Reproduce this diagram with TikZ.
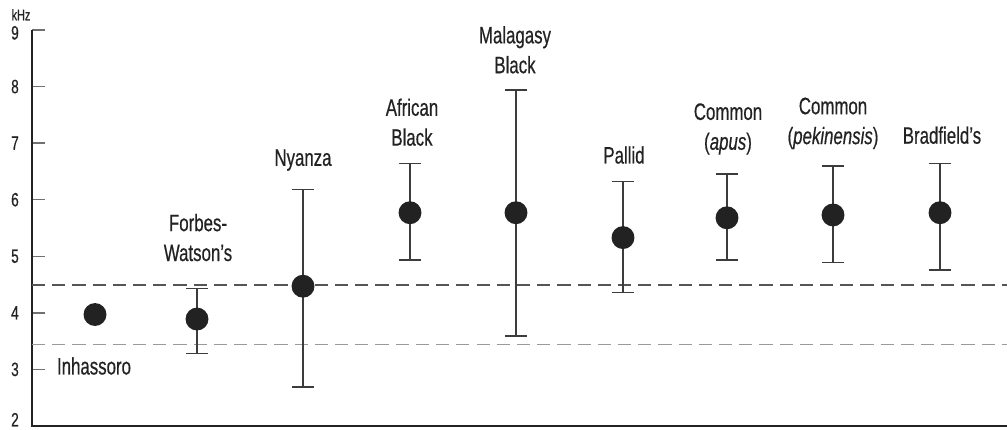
\documentclass[tikz,border=0pt]{standalone}
\usepackage{fontspec}
\setmainfont{Liberation Sans}[FakeStretch=0.71, FakeBold=0.5]
\usepackage{tikz}
\definecolor{inkdark}{HTML}{222222}
\definecolor{bargrey}{HTML}{3C3C3C}
\definecolor{tickgrey}{HTML}{707070}
\definecolor{dashdark}{HTML}{555555}
\definecolor{dashlight}{HTML}{9A9A9A}
\tikzset{
  dot/.style={circle, fill=inkdark, minimum size=23*0.567pt, inner sep=0pt},
  errbar/.style={draw=bargrey, line width=0.85pt},
  axisline/.style={draw=inkdark, line width=1.1pt},
  tickline/.style={draw=tickgrey, line width=0.85pt},
  limit/.style={line width=0.8pt, dash pattern=on 7.5pt off 4pt},
  species/.style={text=inkdark, align=center, font=\fontsize{13.5}{17}\selectfont},
  ticklabel/.style={text=inkdark, anchor=east, font=\fontsize{11}{12}\selectfont}
}
\def\errbar(#1:#2:#3){\draw[errbar] (#1,#2) -- (#1,#3); \draw[errbar] (#1-11,#2) -- (#1+11,#2); \draw[errbar] (#1-11,#3) -- (#1+11,#3);}

\begin{document}
\begin{tikzpicture}[x=0.02cm, y=1.1314cm]
		%%%%% START %%%%%
		\useasboundingbox (0,1.929) rectangle (1007,9.531);
		
		% axes
		\draw[tickline] (32,9) -- (45,9);
		\draw[tickline] (32,8) -- (45,8);
		\draw[tickline] (32,7) -- (45,7);
		\draw[tickline] (32,6) -- (45,6);
		\draw[tickline] (32,5) -- (45,5);
		\draw[tickline] (32,4) -- (45,4);
		\draw[tickline] (32,3) -- (45,3);
		\draw[axisline] (32,9) -- (32,2) -- (1007,2);
		
		\node[ticklabel] (t9) at (25,8.95) {9};
		\node[ticklabel] (t8) at (25,8) {8};
		\node[ticklabel] (t7) at (25,7) {7};
		\node[ticklabel] (t6) at (25,6) {6};
		\node[ticklabel] (t5) at (25,5) {5};
		\node[ticklabel] (t4) at (25,4) {4};
		\node[ticklabel] (t3) at (25,3) {3};
		\node[ticklabel] (t2) at (25,2.11) {2};
		\node[text=inkdark, font=\fontsize{8.7}{10}\selectfont] (unit) at (21,9.27) {kHz};
		
		% limits
		\draw[limit, draw=dashdark] (32,4.49) -- (1007,4.49);
		\draw[limit, draw=dashlight] (32,3.44) -- (1007,3.44);
		
		% ranges
		\errbar(197:3.28:4.43)
		\errbar(303:2.69:6.18)
		\errbar(410:4.93:6.64)
		\errbar(516:3.59:7.94)
		\errbar(623:4.36:6.32)
		\errbar(727:4.93:6.45)
		\errbar(833:4.89:6.60)
		\errbar(940:4.76:6.64)
		
		% means
		\node[dot] (inhassoro) at (95,3.97) {};
		\node[dot] (forbes) at (197,3.89) {};
		\node[dot] (nyanza) at (303,4.47) {};
		\node[dot] (african) at (410,5.77) {};
		\node[dot] (malagasy) at (516,5.77) {};
		\node[dot] (pallid) at (623,5.33) {};
		\node[dot] (apus) at (727,5.68) {};
		\node[dot] (pekinensis) at (833,5.73) {};
		\node[dot] (bradfield) at (940,5.77) {};
		
		% names
		\node[species] (inhassoro-l) at (94,3.06) {Inhassoro};
		\node[species] (forbes-l) at (198,5.33) {Forbes-\\Watson’s};
		\node[species] (nyanza-l) at (303,6.70) {Nyanza};
		\node[species] (african-l) at (412,7.37) {African\\Black};
		\node[species] (malagasy-l) at (515,8.65) {Malagasy\\Black};
		\node[species] (pallid-l) at (624,6.79) {Pallid};
		\node[species] (apus-l) at (728,7.25) {Common\\(\textit{apus})};
		\node[species] (pekinensis-l) at (833,7.35) {Common\\(\textit{pekinensis})};
		\node[species] (bradfield-l) at (942,7.14) {Bradfield’s};
		
		%%%%% END %%%%%
	\end{tikzpicture}
\end{document}
